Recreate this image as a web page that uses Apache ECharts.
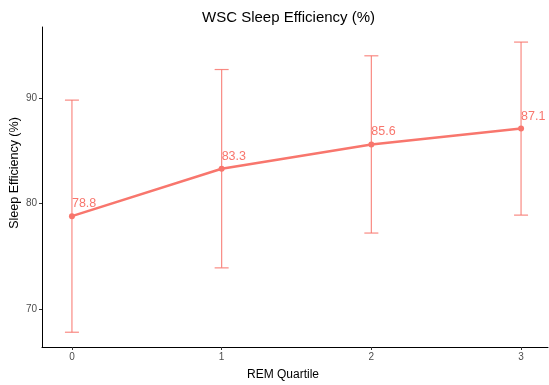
<!DOCTYPE html>
<html>
<head>
<meta charset="utf-8">
<script src="https://cdn.jsdelivr.net/npm/echarts@6/dist/echarts.min.js"></script>
<style>
html,body{margin:0;padding:0;background:#fff;}
#chart{width:549px;height:385px;}
</style>
</head>
<body>
<div id="chart"></div>
<script>
// REM quartiles and sleep efficiency summary (mean with lower/upper bounds)
var quartiles = [0, 1, 2, 3];
var meanEff = [78.8, 83.3, 85.6, 87.1];
var lowerEff = [67.8, 73.9, 77.2, 78.9];
var upperEff = [89.8, 92.7, 94.0, 95.3];
var yTicks = [70, 80, 90];

var FONT = '"Liberation Sans", Arial, Helvetica, sans-serif';
var RED = '#F8766D';

var chart = echarts.init(document.getElementById('chart'));

var meanPoints = quartiles.map(function (q, i) { return [q, meanEff[i]]; });
var barData = quartiles.map(function (q, i) { return [q, lowerEff[i], upperEff[i]]; });

chart.setOption({
  animation: false,
  title: {
    text: 'WSC Sleep Efficiency (%)',
    left: 197, top: 5,
    textStyle: { fontFamily: FONT, fontSize: 15, fontWeight: 'normal', color: '#000' }
  },
  // vertical axis title
  graphic: [{
    type: 'text',
    x: 15, y: 173,
    rotation: Math.PI / 2,
    style: {
      text: 'Sleep Efficiency (%)',
      font: '12.5px ' + FONT,
      fill: '#000',
      align: 'center',
      verticalAlign: 'middle'
    }
  }],
  grid: { left: 42, right: 1, top: 27, bottom: 38, containLabel: false, outerBoundsMode: 'none' },
  xAxis: {
    type: 'value', min: -0.2, max: 3.18,
    name: 'REM Quartile', nameLocation: 'middle', nameGap: 22,
    nameTextStyle: { fontFamily: FONT, fontSize: 12, color: '#000', padding: [0, 24, 0, 0] },
    axisLine: { show: true, onZero: false, lineStyle: { color: '#000', width: 1 } },
    axisTick: { show: true, length: 3, lineStyle: { color: '#333' }, customValues: quartiles },
    axisLabel: {
      fontFamily: FONT, fontSize: 10, color: '#4d4d4d', margin: 5,
      customValues: quartiles
    },
    splitLine: { show: false }
  },
  yAxis: {
    type: 'value', min: 66.4, max: 96.73,
    axisLine: { show: true, onZero: false, lineStyle: { color: '#000', width: 1 } },
    axisTick: { show: true, length: 3, lineStyle: { color: '#333' }, customValues: yTicks },
    axisLabel: { fontFamily: FONT, fontSize: 10, color: '#4d4d4d', margin: 5, customValues: yTicks },
    splitLine: { show: false }
  },
  series: [
    {
      type: 'custom',
      data: barData,
      z: 2,
      renderItem: function (params, api) {
        var x = api.value(0);
        var lo = api.coord([x, api.value(1)]);
        var hi = api.coord([x, api.value(2)]);
        var half = 7;
        var style = { stroke: RED, lineWidth: 1.2, opacity: 0.85 };
        return {
          type: 'group',
          children: [
            { type: 'line', shape: { x1: lo[0], y1: lo[1], x2: hi[0], y2: hi[1] }, style: style },
            { type: 'line', shape: { x1: lo[0] - half, y1: lo[1], x2: lo[0] + half, y2: lo[1] }, style: style },
            { type: 'line', shape: { x1: hi[0] - half, y1: hi[1], x2: hi[0] + half, y2: hi[1] }, style: style }
          ]
        };
      }
    },
    {
      type: 'line',
      data: meanPoints,
      z: 3,
      symbol: 'circle', symbolSize: 6,
      lineStyle: { color: RED, width: 2.5 },
      itemStyle: { color: RED },
      label: {
        show: true, position: 'top', align: 'left', distance: 3,
        offset: [0, 0],
        fontFamily: FONT, fontSize: 12.5, color: RED,
        formatter: function (p) { return p.value[1].toFixed(1); }
      }
    }
  ]
});
</script>
</body>
</html>
